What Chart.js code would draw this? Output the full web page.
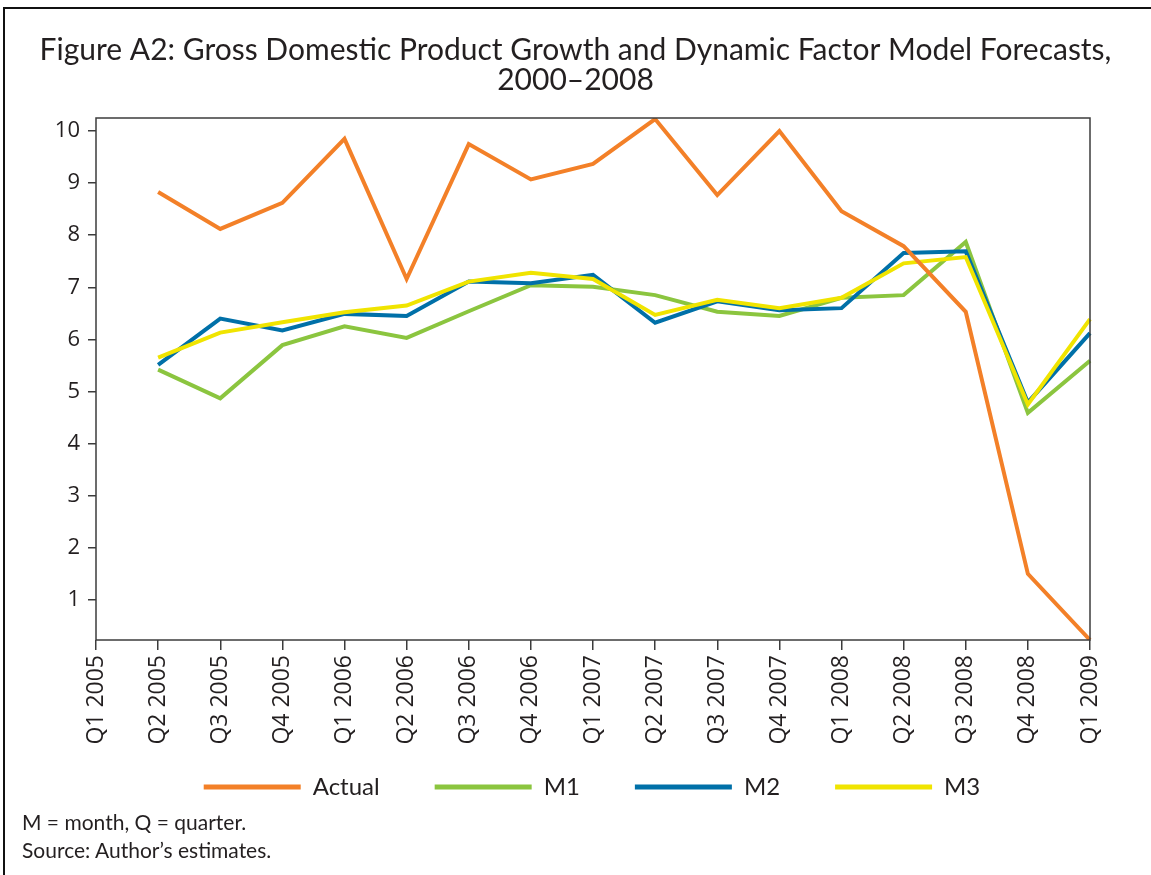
<!DOCTYPE html>
<html lang="en">

<head>
    <meta charset="UTF-8">
    <meta name="viewport" content="width=device-width, initial-scale=1.0">
    <title>GDP Growth and DFM Forecasts</title>
    <script src="https://cdn.jsdelivr.net/npm/chart.js@4.4.1/dist/chart.umd.min.js"></script>
    <style>
        body {
            margin: 0;
            background-color: white;
        }

        .page {
            position: relative;
            width: 1151px;
            height: 875px;
            overflow: hidden;
        }

        .frame {
            position: absolute;
            left: 3px;
            top: 7px;
            right: 0;
            bottom: 0;
            border-top: 2px solid #111;
            border-left: 2px solid #111;
        }

        .chart-container {
            position: absolute;
            left: 0;
            top: 0;
            width: 1151px;
            height: 875px;
        }

        .notes {
            position: absolute;
            left: 22px;
            top: 808px;
            font-family: Lato, sans-serif;
            font-size: 21px;
            line-height: 28px;
            color: #231f20;
        }
    </style>
</head>

<body>
    <div class="page">
        <div class="frame"></div>
        <div class="chart-container">
            <canvas id="myChart"></canvas>
        </div>
        <div class="notes">
            <div>M = month, Q = quarter.</div>
            <div>Source: Author’s estimates.</div>
        </div>
    </div>

    <script>
        const quarters = [
            'Q1 2005', 'Q2 2005', 'Q3 2005', 'Q4 2005',
            'Q1 2006', 'Q2 2006', 'Q3 2006', 'Q4 2006',
            'Q1 2007', 'Q2 2007', 'Q3 2007', 'Q4 2007',
            'Q1 2008', 'Q2 2008', 'Q3 2008', 'Q4 2008',
            'Q1 2009'
        ];

        const actual = [null, 8.83, 8.12, 8.62, 9.85, 7.16, 9.75, 9.07, 9.37, 10.23, 8.77, 10.0, 8.46, 7.79, 6.53, 1.50, 0.23];
        const m1 = [null, 5.42, 4.87, 5.89, 6.25, 6.03, 6.54, 7.04, 7.01, 6.85, 6.53, 6.45, 6.80, 6.85, 7.87, 4.59, 5.59];
        const m2 = [null, 5.51, 6.40, 6.17, 6.49, 6.45, 7.11, 7.08, 7.24, 6.32, 6.73, 6.56, 6.60, 7.66, 7.69, 4.79, 6.12];
        const m3 = [null, 5.65, 6.13, 6.33, 6.52, 6.65, 7.11, 7.28, 7.16, 6.47, 6.76, 6.60, 6.80, 7.46, 7.58, 4.75, 6.39];

        const yTicks = [1, 2, 3, 4, 5, 6, 7, 8, 9, 10];

        const ink = '#231f20';
        const axisColor = '#3c3c3c';

        function line(label, values, color, order) {
            return {
                label,
                data: values,
                borderColor: color,
                backgroundColor: color,
                borderWidth: 4,
                pointRadius: 0,
                tension: 0,
                borderJoinStyle: 'miter',
                order
            };
        }

        // box round the plot area; title centred on the page, legend pulled up under the labels
        const plotBox = {
            id: 'plotBox',
            afterLayout(chart) {
                chart.titleBlock.right += 61;
                chart.legend.left += 47;
                chart.legend.right += 47;
                chart.legend.top -= 35;
                chart.legend.bottom -= 35;
            },
            afterDatasetsDraw(chart) {
                const { left, top, right, bottom } = chart.chartArea;
                const ctx = chart.ctx;
                ctx.save();
                ctx.strokeStyle = axisColor;
                ctx.lineWidth = 1.5;
                ctx.strokeRect(left, top, right - left, bottom - top);
                ctx.restore();
            }
        };

        const config = {
            type: 'line',
            data: {
                labels: quarters,
                datasets: [
                    line('Actual', actual, 'rgb(243, 128, 40)', 0),
                    line('M1', m1, 'rgb(139, 197, 63)', 3),
                    line('M2', m2, 'rgb(0, 112, 168)', 2),
                    line('M3', m3, 'rgb(240, 228, 0)', 1)
                ]
            },
            options: {
                responsive: true,
                maintainAspectRatio: false,
                animation: false,
                layout: {
                    padding: { left: 0, right: 61, top: 0, bottom: 31 }
                },
                scales: {
                    x: {
                        offset: false,
                        afterFit: scale => { scale.height = 115; },
                        border: { display: false },
                        grid: {
                            drawOnChartArea: false,
                            drawTicks: true,
                            tickLength: 10,
                            color: axisColor,
                            lineWidth: 1.5
                        },
                        ticks: {
                            autoSkip: false,
                            minRotation: 90,
                            maxRotation: 90,
                            padding: 5,
                            color: ink,
                            font: { family: 'Open Sans', size: 23 }
                        }
                    },
                    y: {
                        min: 0.23,
                        max: 10.25,
                        afterFit: scale => { scale.width = 96; },
                        afterBuildTicks: scale => {
                            scale.ticks = yTicks.map(v => ({ value: v }));
                        },
                        border: { display: false },
                        grid: {
                            drawOnChartArea: false,
                            drawTicks: true,
                            tickLength: 8,
                            color: axisColor,
                            lineWidth: 1.5
                        },
                        ticks: {
                            padding: 8,
                            color: ink,
                            font: { family: 'Open Sans', size: 22 }
                        }
                    }
                },
                plugins: {
                    title: {
                        display: true,
                        text: ['Figure A2: Gross Domestic Product Growth and Dynamic Factor Model Forecasts,', '2000–2008'],
                        color: ink,
                        font: { family: 'Lato', size: 30, weight: 'normal', lineHeight: 1.0 },
                        padding: { top: 35, bottom: 23 }
                    },
                    legend: {
                        position: 'bottom',
                        labels: {
                            color: ink,
                            font: { family: 'Lato', size: 24 },
                            boxWidth: 97,
                            boxHeight: 5,
                            padding: 55,
                            sort: (a, b) => a.datasetIndex - b.datasetIndex,
                            generateLabels: chart => Chart.defaults.plugins.legend.labels
                                .generateLabels(chart)
                                .map(item => Object.assign(item, { lineWidth: 0 }))
                        }
                    },
                    tooltip: { enabled: false }
                }
            },
            plugins: [plotBox]
        };

        const ctx = document.getElementById('myChart').getContext('2d');
        const myChart = new Chart(ctx, config);
    </script>

</body>

</html>
